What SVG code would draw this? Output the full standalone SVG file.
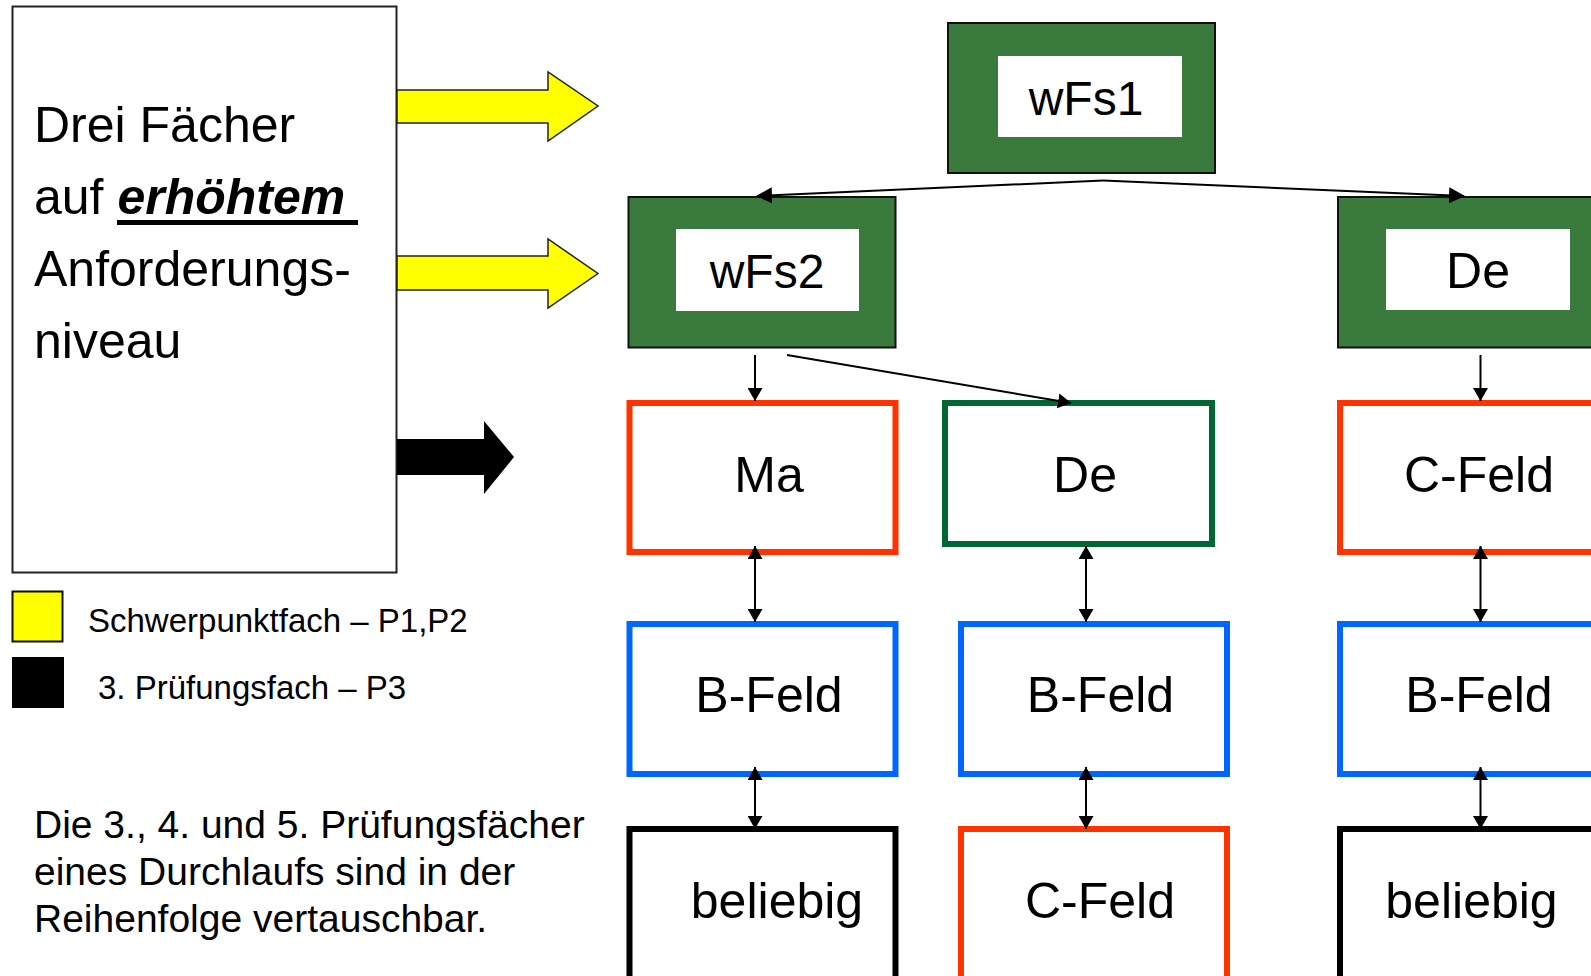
<svg xmlns="http://www.w3.org/2000/svg" width="1591" height="976" viewBox="0 0 1591 976">
<defs>
<style>
text{font-family:"Liberation Sans",Arial,sans-serif;fill:#000}
.lbl{font-size:50px;text-anchor:middle}
.lbs{font-size:48px;text-anchor:middle}
.big{font-size:50px}
.leg{font-size:33px}
.par{font-size:39px}
.gbox{fill:#3a7a3c;stroke:#111;stroke-width:2}
.inner{fill:#fff}
.red{fill:#fff;stroke:#ff3300;stroke-width:6}
.blue{fill:#fff;stroke:#0066ff;stroke-width:6}
.blk{fill:#fff;stroke:#000;stroke-width:6}
.grn{fill:#fff;stroke:#006633;stroke-width:6}
.con{fill:none;stroke:#000;stroke-width:2}
</style>
<marker id="ah" viewBox="0 0 16 16" refX="15" refY="8" markerWidth="16" markerHeight="16" markerUnits="userSpaceOnUse" orient="auto-start-reverse">
<path d="M0,0 L16,8 L0,16 Z" fill="#000"/>
</marker>
<marker id="as" viewBox="0 0 14 14" refX="14" refY="7" markerWidth="13" markerHeight="15" markerUnits="userSpaceOnUse" orient="auto-start-reverse" preserveAspectRatio="none">
<path d="M0,0 L14,7 L0,14 Z" fill="#000"/>
</marker>
</defs>
<rect width="1591" height="976" fill="#fff"/>

<g id="info-box">
<rect x="12.5" y="6.5" width="384" height="566" fill="#fff" stroke="#222" stroke-width="2"/>
<text class="big" x="34" y="142">Drei Fächer</text>
<text class="big" x="34" y="214">auf <tspan font-weight="bold" font-style="italic">erhöhtem</tspan></text>
<rect x="117" y="220" width="241" height="5" fill="#000"/>
<text class="big" x="34" y="286">Anforderungs-</text>
<text class="big" x="34" y="358">niveau</text>
</g>

<g id="arrow-p1">
<path d="M397,90 H548 V72 L598,106 L548,141 V123 H397 Z" fill="#ffff00" stroke="#222" stroke-width="1.5"/>
</g>
<g id="arrow-p2">
<path d="M397,256 H548 V239 L598,273.5 L548,308 V290 H397 Z" fill="#ffff00" stroke="#222" stroke-width="1.5"/>
</g>
<g id="arrow-p3">
<path d="M397,439 H484 V421 L514,457 L484,494 V475 H397 Z" fill="#000"/>
</g>

<g id="legend">
<rect x="12.5" y="591.5" width="50" height="50" fill="#ffff00" stroke="#111" stroke-width="2"/>
<rect x="12" y="657" width="52" height="51" fill="#000"/>
<text class="leg" x="88" y="632">Schwerpunktfach – P1,P2</text>
<text class="leg" x="98" y="699">3. Prüfungsfach – P3</text>
</g>

<g id="note">
<text class="par" x="34" y="838">Die 3., 4. und 5. Prüfungsfächer</text>
<text class="par" x="34" y="885">eines Durchlaufs sind in der</text>
<text class="par" x="34" y="932">Reihenfolge vertauschbar.</text>
</g>

<g id="node-wFs1">
<rect class="gbox" x="948" y="23" width="267" height="150"/>
<rect class="inner" x="998" y="56" width="184" height="81"/>
<text class="lbs" x="1086" y="115">wFs1</text>
</g>
<g id="node-wFs2">
<rect class="gbox" x="628.5" y="197" width="267" height="150.5"/>
<rect class="inner" x="676" y="229" width="183" height="82"/>
<text class="lbs" x="767" y="288">wFs2</text>
</g>
<g id="node-De-top">
<rect class="gbox" x="1338" y="197" width="270" height="150.5"/>
<rect class="inner" x="1386" y="229" width="184" height="81"/>
<text class="lbl" x="1478" y="288">De</text>
</g>

<g id="node-Ma">
<rect class="red" x="629.5" y="403" width="266" height="149"/>
<text class="lbl" x="769" y="492">Ma</text>
</g>
<g id="node-De">
<rect class="grn" x="945" y="403" width="267" height="141"/>
<text class="lbl" x="1085" y="492">De</text>
</g>
<g id="node-C-Feld-1">
<rect class="red" x="1340" y="403" width="270" height="149"/>
<text class="lbl" x="1479" y="492">C-Feld</text>
</g>

<g id="node-B-Feld-1">
<rect class="blue" x="629.5" y="624" width="266" height="150"/>
<text class="lbl" x="769" y="712">B-Feld</text>
</g>
<g id="node-B-Feld-2">
<rect class="blue" x="961" y="624" width="266" height="150"/>
<text class="lbl" x="1100.5" y="712">B-Feld</text>
</g>
<g id="node-B-Feld-3">
<rect class="blue" x="1340" y="624" width="270" height="150"/>
<text class="lbl" x="1479" y="712">B-Feld</text>
</g>

<g id="node-beliebig-1">
<rect class="blk" x="629.5" y="829" width="266" height="160"/>
<text class="lbl" x="777" y="918">beliebig</text>
</g>
<g id="node-C-Feld-2">
<rect class="red" x="961" y="829" width="266" height="160"/>
<text class="lbl" x="1100" y="918">C-Feld</text>
</g>
<g id="node-beliebig-3">
<rect class="blk" x="1340" y="829" width="270" height="160"/>
<text class="lbl" x="1471.5" y="918">beliebig</text>
</g>

<g id="connectors">
<line class="con" x1="1103" y1="180.5" x2="757" y2="196" marker-end="url(#ah)"/>
<line class="con" x1="1103" y1="180.5" x2="1464" y2="196" marker-end="url(#ah)"/>
<line class="con" x1="755" y1="355" x2="755" y2="401" stroke-width="1.5" marker-end="url(#as)"/>
<line class="con" x1="787" y1="355" x2="1071" y2="403" stroke-width="1.5" marker-end="url(#as)"/>
<line class="con" x1="1480.5" y1="355" x2="1480.5" y2="401" stroke-width="1.5" marker-end="url(#as)"/>
<line class="con" x1="755" y1="546" x2="755" y2="622" stroke-width="1.5" marker-start="url(#as)" marker-end="url(#as)"/>
<line class="con" x1="1086" y1="546" x2="1086" y2="622" stroke-width="1.5" marker-start="url(#as)" marker-end="url(#as)"/>
<line class="con" x1="1480.5" y1="546" x2="1480.5" y2="622" stroke-width="1.5" marker-start="url(#as)" marker-end="url(#as)"/>
<line class="con" x1="755" y1="767" x2="755" y2="829" stroke-width="1.5" marker-start="url(#as)" marker-end="url(#as)"/>
<line class="con" x1="1086" y1="767" x2="1086" y2="829" stroke-width="1.5" marker-start="url(#as)" marker-end="url(#as)"/>
<line class="con" x1="1480.5" y1="767" x2="1480.5" y2="829" stroke-width="1.5" marker-start="url(#as)" marker-end="url(#as)"/>
</g>
</svg>
